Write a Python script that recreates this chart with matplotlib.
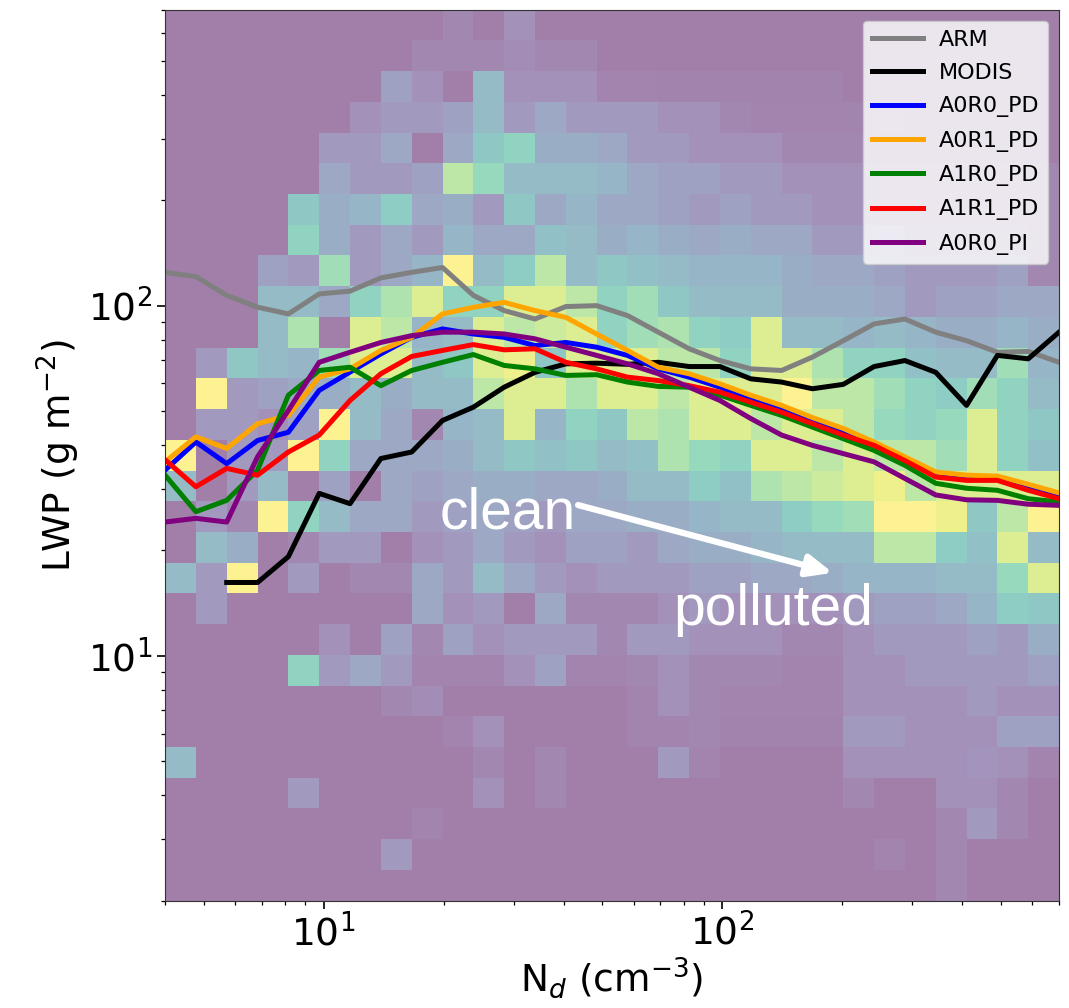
import numpy as np
import matplotlib.pyplot as plt

# bin edges of the 2D histogram (log spaced), lines are drawn on the x edges
xedges = np.logspace(np.log10(4), np.log10(700), 30)
yedges = np.logspace(np.log10(2), np.log10(700), 30)

# relative frequency per cell, top row (highest LWP) first
freq = [
    [0, 0, 0, 0, 0, 0, 0, 0, 0, 0.5, 0, 1, 0, 0, 0, 0, 0, 0, 0, 0, 0, 0, 0, 0, 0, 0, 0, 0, 0],
    [0, 0, 0, 0, 0, 0, 0, 0, 0.5, 0.5, 0.5, 0.7, 0.5, 0.5, 0, 0, 0, 0, 0, 0, 0, 0, 0, 0, 0, 0, 0, 0, 0],
    [0, 0, 0, 0, 0, 0, 0, 2, 1, 0, 4, 1, 1, 1, 0.3, 0.3, 0.2, 0.2, 0.2, 0.2, 0.2, 0.2, 0, 0, 0, 0, 0, 0, 0],
    [0, 0, 0, 0, 0, 0, 1, 1.5, 1.5, 2, 4, 1.5, 2.5, 1.5, 1.5, 1.5, 1, 1, 0.5, 0.3, 0.3, 0.3, 0.3, 0.3, 0, 0, 0, 0, 0],
    [0, 0, 0, 0, 0, 1.5, 1.5, 2.5, 0, 2.5, 5, 6, 3, 3, 2.5, 1.5, 1.5, 1, 1, 1, 0.5, 0.5, 0.5, 0, 0, 0, 0, 0, 0],
    [0, 0, 0, 0, 0, 2.5, 1.5, 1.5, 2, 8, 6.5, 4, 4, 4, 3.5, 2.5, 2, 2, 1.5, 1.5, 1, 1, 1, 0.5, 0.5, 0.5, 0.5, 0.5, 0.5],
    [0, 0, 0, 0, 5, 3, 3.5, 5.5, 2.5, 3, 1.5, 5, 2.5, 3.5, 2.5, 2.5, 2, 1.5, 2, 1.5, 1.5, 1, 1, 0.5, 0.5, 0.5, 0.5, 0.5, 0.5],
    [0, 0, 0, 0, 6, 3, 1.5, 2.5, 1.5, 3.5, 2.5, 2.5, 4.5, 4, 3, 3.5, 3, 2.5, 3, 2.5, 2.5, 1.5, 1.5, 1.5, 1, 1, 1, 1, 0.5],
    [0, 0, 0, 2, 1.5, 7, 1.5, 2.5, 3.5, 10, 4, 5.5, 8, 4, 5, 4.5, 4, 3.5, 3.5, 3.5, 3, 2.5, 2.5, 2, 1.5, 1.5, 1.5, 2, 0.5],
    [0, 0, 0, 4, 4, 2.5, 6, 7.5, 9, 6, 6, 9, 9, 8, 6, 7, 5, 4, 4, 4, 3, 3, 3, 2.5, 1.5, 2, 2, 2.5, 2.5],
    [0, 0, 0, 4, 7.5, 0, 9, 8, 3.5, 4, 9, 8, 8.5, 9, 6, 7, 7.5, 6, 5.5, 9, 4, 4, 3.5, 4, 3.5, 3, 3, 3.5, 3],
    [0, 1.5, 5, 4, 3.5, 7, 9, 9, 4, 5, 9, 9.5, 5, 9, 9, 9, 8, 8, 6, 9, 9, 7.5, 6, 6, 4.5, 4, 4, 7, 3.5],
    [0, 10, 1.5, 2, 2.5, 3, 4, 3, 4, 4, 8, 9, 9, 7.5, 9, 9, 8, 9, 9, 9, 10, 8, 8, 7, 6, 5.5, 7, 6, 4],
    [0, 1.5, 1.5, 1, 2, 10, 4, 2.5, 0.5, 3.5, 4, 9, 3.5, 6, 5, 8, 7.5, 9, 9, 8, 9, 9, 8, 6.5, 6, 6.5, 9, 6, 5],
    [10, 0, 1.5, 1.5, 10, 6, 2.5, 2.5, 2.5, 3, 4, 5, 4.5, 5, 4, 4.5, 7.5, 6.5, 6, 9, 9, 8, 9, 8, 8, 7, 9, 6, 4.5],
    [4, 0, 1.5, 4, 0, 2, 0, 2.5, 2, 2.5, 3, 3, 2.5, 2.5, 3, 4, 4, 5.5, 4.5, 7.5, 8, 8.5, 9, 9.5, 8, 9, 9, 9, 9],
    [0, 1.5, 0.5, 10, 6, 4, 2.5, 2.5, 1.5, 2, 2.5, 2, 1.5, 2.5, 2.5, 3, 3, 3.5, 4, 4, 5.5, 6.5, 7, 10, 10, 9.5, 5, 8, 10],
    [0, 4, 3, 0, 0.5, 1.5, 1.5, 0, 1, 1.5, 2.5, 1.5, 1, 2, 2, 1.5, 2.5, 3, 3, 3.5, 4, 4, 4, 8, 8, 5.5, 4.5, 9, 4],
    [4, 1.5, 10, 0, 1.5, 0, 0.5, 0.5, 2.5, 1.5, 4, 2.5, 1.5, 1, 1.5, 1.5, 1.5, 2, 2, 2.5, 2.5, 3, 3.5, 3.5, 3.5, 4, 4, 6.5, 9],
    [0, 1.5, 0, 0, 0, 0, 0, 0, 2.5, 1, 1.5, 0, 2.5, 0.5, 0.5, 0.5, 1, 1.5, 1, 1, 1, 1, 1.5, 2, 2, 2.5, 3.5, 5.5, 5],
    [0, 0, 0, 0, 0, 1, 0, 2, 0.5, 2, 1, 1.5, 1.5, 1.5, 0.5, 1.5, 1.5, 1, 1, 1, 0.5, 0.5, 1, 1.5, 1.5, 1.5, 2, 1.5, 3],
    [0, 0, 0, 0, 6, 1.5, 2.5, 1.5, 0.3, 0.3, 0.3, 1, 2, 0.3, 0.3, 0.5, 1, 0.5, 0.5, 0.5, 0.3, 0.3, 1, 1, 1.5, 1.5, 1.5, 1.5, 2],
    [0, 0, 0, 0, 0, 0, 0, 0.5, 0.7, 0, 0, 0, 0, 0, 0, 0.3, 1, 0.5, 0.3, 0.3, 0.3, 0.3, 1, 1, 1, 1, 1.5, 1, 1],
    [0, 0, 0, 0, 0, 0, 0, 0, 0, 0.3, 1, 0, 0, 0, 0, 0.3, 0.3, 0.5, 0.2, 0.2, 0.2, 0.2, 1.5, 1.5, 1, 1, 1, 2, 2],
    [4, 0, 0, 0, 0, 0, 0, 0, 0, 0, 0.5, 0, 0.5, 0, 0, 0, 1.5, 0.3, 0, 0, 0, 0, 1, 1, 1, 1, 1.2, 1, 0.3],
    [0, 0, 0, 0, 1.5, 0, 0, 0, 0, 0, 1, 0, 0.5, 0, 0, 0, 0, 0, 0, 0, 0, 0, 0.5, 0, 0, 1, 1, 0.5, 0],
    [0, 0, 0, 0, 0, 0, 0, 0, 0.3, 0, 0, 0, 0, 0, 0, 0, 0, 0, 0, 0, 0, 0, 0, 0, 0, 0.5, 1.5, 0.5, 0],
    [0, 0, 0, 0, 0, 0, 0, 1.5, 0, 0, 0, 0, 0, 0, 0, 0, 0, 0, 0, 0, 0, 0, 0, 0.3, 0, 0.5, 0, 0, 0],
    [0, 0, 0, 0, 0, 0, 0, 0, 0, 0, 0, 0, 0, 0, 0, 0, 0, 0, 0, 0, 0, 0, 0, 0, 0, 0.5, 0, 0, 0],
]

arm = [124.5, 121, 107, 99, 94.7, 108, 110, 120, 124.5, 128.5, 107, 96.8, 91.6, 99.4, 100,
       93.7, 84, 75.3, 69.7, 66, 65.3, 71.3, 79.4, 88.7, 91.6, 84, 79.4, 73.6, 74, 68.9]
modis = [np.nan, np.nan, 16.2, 16.2, 19.2, 29.1, 27.2, 36.6, 38.2, 47, 51.3, 58.5, 64.5, 68.2, 68.5,
         68, 68.9, 67, 67, 61.8, 60.5, 57.9, 59.6, 67, 69.7, 64.5, 51.9, 72.1, 70.5, 84]
a0r0_pd = [33.9, 40.8, 35.4, 41.2, 43.5, 57.3, 64.6, 72.8, 81.2, 85.8, 83, 81.2, 76.9, 78.5, 76.1,
           72.1, 66, 62.5, 58.5, 54.2, 50.8, 47, 43.5, 40.4, 36.6, 32.8, 32.1, 31.9, 30.1, 28.6]
a0r1_pd = [35.8, 42.2, 39.1, 46, 48.6, 62.5, 66, 74.5, 81.2, 94.7, 98.9, 102.2, 96.8, 92.6, 83,
           74.5, 66.7, 63.9, 59.8, 55.5, 51.9, 47.9, 44.6, 40.8, 37, 33.5, 32.8, 32.6, 30.9, 29.2]
a1r0_pd = [32.8, 25.8, 27.8, 33.9, 55.5, 65.3, 66.7, 59.1, 65.3, 68.9, 72.5, 67.5, 66, 63.2, 63.5,
           60.5, 58.8, 58.5, 55.5, 51.9, 48.6, 45, 41.7, 38.6, 35, 31.1, 30.1, 29.7, 28.1, 27.5]
a1r1_pd = [36.3, 30.4, 34.3, 32.8, 38.2, 42.7, 53.6, 63.9, 71.6, 74.5, 77.4, 74.8, 75.3, 68.9, 66,
           62.5, 61.1, 59.1, 56.6, 53, 49.6, 46, 42.7, 39.9, 36.1, 32.4, 31.7, 31.7, 29.7, 28.1]
a0r0_pi = [24.1, 24.7, 24.1, 37, 50.2, 68.9, 73.6, 78.5, 82.1, 84, 84, 83, 80.4, 76.1, 72.1,
           68.2, 63.9, 58.5, 53.6, 47.6, 42.7, 39.9, 37.8, 35.8, 32.1, 28.8, 27.9, 27.8, 27.1, 26.9]

series = [("ARM", arm, "gray"), ("MODIS", modis, "black"), ("A0R0_PD", a0r0_pd, "blue"),
          ("A0R1_PD", a0r1_pd, "orange"), ("A1R0_PD", a1r0_pd, "green"),
          ("A1R1_PD", a1r1_pd, "red"), ("A0R0_PI", a0r0_pi, "purple")]

fig = plt.figure(figsize=(10.69, 10.08), dpi=100)
ax = fig.add_axes([0.1544, 0.1065, 0.8363, 0.8839])

# histogram background
ax.pcolormesh(xedges, yedges, np.flipud(np.array(freq)), cmap="viridis",
              vmin=0, vmax=10, alpha=0.5, linewidth=0)

for name, vals, col in series:
    ax.plot(xedges, vals, color=col, lw=3.6, label=name)

ax.set_xscale("log")
ax.set_yscale("log")
ax.set_xlim(4, 700)
ax.set_ylim(2, 700)

ax.tick_params(which="major", labelsize=27, length=5.5, width=1.2, pad=4)
ax.tick_params(which="minor", length=3, width=0.9)
for sp in ax.spines.values():
    sp.set_color("#333333")
ax.set_xlabel("N$_d$ (cm$^{-3}$)", fontsize=27, labelpad=1)
ax.set_ylabel("LWP (g m$^{-2}$)", fontsize=27, labelpad=4)

leg = ax.legend(loc="upper right", fontsize=16, labelspacing=0.6,
                handlelength=2.3, handletextpad=0.7, borderaxespad=0.5)
for ln in leg.get_lines():
    ln.set_linewidth(3.6)

# clean -> polluted annotation
ax.annotate("", xy=(0.747, 0.368), xytext=(0.462, 0.444), xycoords="axes fraction",
            arrowprops=dict(arrowstyle="-|>,head_length=1.5,head_width=0.65",
                            color="white", lw=4.5, shrinkA=0, shrinkB=0))
ax.text(0.3076, 0.4178, "clean", transform=ax.transAxes, color="white",
        fontsize=41, family="Liberation Sans", va="baseline")
ax.text(0.568, 0.309, "polluted", transform=ax.transAxes, color="white",
        fontsize=41, family="Liberation Sans", va="baseline")

fig.savefig("out.png", dpi=100)
